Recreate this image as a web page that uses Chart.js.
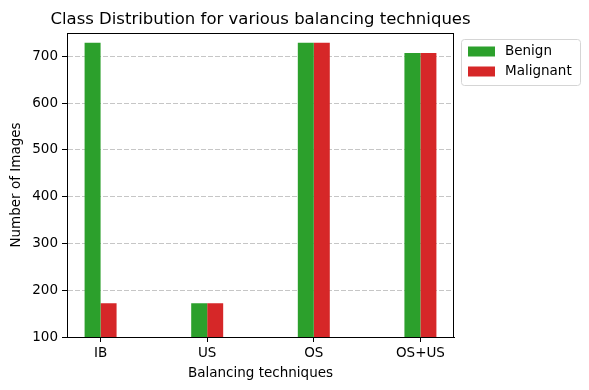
<!DOCTYPE html>
<html>
<head>
<meta charset="utf-8">
<script src="https://cdn.jsdelivr.net/npm/chart.js@4"></script>
<style>
  html, body { margin: 0; padding: 0; background: #fff; }
  #wrap { width: 589px; height: 390px; position: relative; }
</style>
</head>
<body>
<div id="wrap"><canvas id="balanceChart"></canvas></div>
<script>
// Data
const categories = ['IB', 'US', 'OS', 'OS+US'];
const benign = [729, 172, 729, 707];
const malignant = [172, 172, 729, 707];
const yTicks = [100, 200, 300, 400, 500, 600, 700];

const FONT = '"DejaVu Sans", sans-serif';

// Title, full frame and outside legend, drawn like matplotlib does it
const extrasPlugin = {
    id: 'extras',
    afterDraw(chart) {
        const c = chart.ctx;
        const a = chart.chartArea;
        c.save();
        // frame
        c.strokeStyle = '#000';
        c.lineWidth = 1;
        c.setLineDash([]);
        c.strokeRect(Math.round(a.left) + 0.5, Math.round(a.top) + 0.5,
            Math.round(a.right - a.left) - 1, Math.round(a.bottom - a.top));
        // title
        c.fillStyle = '#000';
        c.font = '16.5px ' + FONT;
        c.textAlign = 'center';
        c.textBaseline = 'alphabetic';
        c.fillText('Class Distribution for various balancing techniques', (a.left + a.right) / 2, 24);
        // legend
        const lx = 461, ly = 39, lw = 119, lh = 46;
        c.beginPath();
        c.roundRect(lx + 0.5, ly + 0.5, lw, lh, 3);
        c.fillStyle = 'rgba(255,255,255,0.8)';
        c.fill();
        c.strokeStyle = '#d5d5d5';
        c.stroke();
        c.font = '13.5px ' + FONT;
        c.textAlign = 'left';
        c.textBaseline = 'middle';
        chart.data.datasets.forEach((ds, i) => {
            const cy = 51.5 + i * 20;
            c.fillStyle = ds.backgroundColor;
            c.fillRect(468, cy - 5, 27, 10);
            c.fillStyle = '#000';
            c.fillText(ds.label, 505, cy);
        });
        c.restore();
    }
};

new Chart(document.getElementById('balanceChart'), {
    type: 'bar',
    data: {
        datasets: [
            {
                label: 'Benign',
                data: categories.map((c, i) => ({ x: i, y: benign[i] })),
                backgroundColor: '#2ca02c',
                categoryPercentage: 0.3,
                barPercentage: 1.0
            },
            {
                label: 'Malignant',
                data: categories.map((c, i) => ({ x: i, y: malignant[i] })),
                backgroundColor: '#d62728',
                categoryPercentage: 0.3,
                barPercentage: 1.0
            }
        ]
    },
    plugins: [extrasPlugin],
    options: {
        responsive: true,
        maintainAspectRatio: false,
        animation: false,
        layout: {
            padding: { left: 0, top: 33, right: 135, bottom: 0 }
        },
        plugins: {
            legend: { display: false },
            tooltip: { enabled: false }
        },
        scales: {
            x: {
                type: 'linear',
                offset: false,
                min: -0.315,
                max: categories.length - 1 + 0.315,
                afterBuildTicks: (scale) => {
                    scale.ticks = categories.map((c, i) => ({ value: i }));
                },
                afterFit: (scale) => { scale.height = 53; },
                grid: {
                    offset: false,
                    color: 'rgba(0,0,0,0)',
                    tickColor: '#000',
                    tickLength: 5,
                    drawOnChartArea: false
                },
                border: { color: '#000', width: 1 },
                ticks: {
                    color: '#000',
                    padding: 3,
                    maxRotation: 0,
                    autoSkip: false,
                    font: { family: FONT, size: 13.5 },
                    callback: (v) => categories[v]
                },
                title: {
                    display: true,
                    text: 'Balancing techniques',
                    color: '#000',
                    padding: { top: 2, bottom: 8 },
                    font: { family: FONT, size: 13.5 }
                }
            },
            y: {
                min: 100,
                max: 750,
                afterBuildTicks: (scale) => {
                    scale.ticks = yTicks.map(v => ({ value: v }));
                },
                afterFit: (scale) => { scale.width = 67; },
                grid: {
                    color: '#c6c6c6',
                    tickColor: '#000',
                    tickBorderDash: [],
                    tickLength: 5
                },
                border: { color: '#000', width: 1, dash: [5, 2] },
                ticks: {
                    color: '#000',
                    padding: 4,
                    font: { family: FONT, size: 13.5 }
                },
                title: {
                    display: true,
                    text: 'Number of Images',
                    color: '#000',
                    padding: { top: 8, bottom: 2 },
                    font: { family: FONT, size: 13.5 }
                }
            }
        }
    }
});
</script>
</body>
</html>
